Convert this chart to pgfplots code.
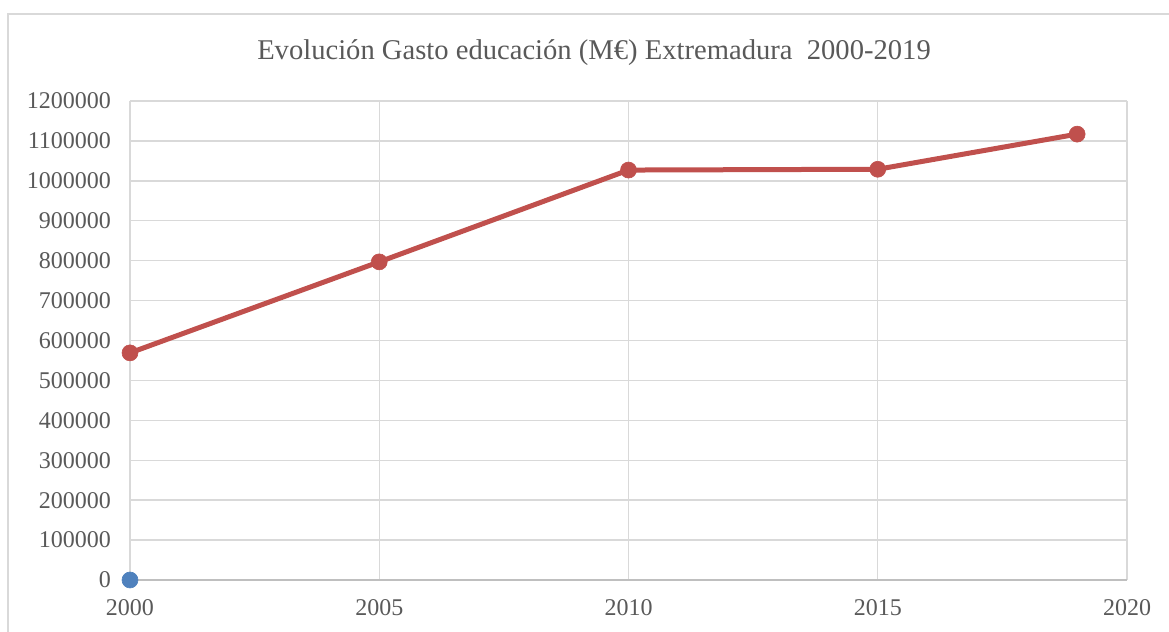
\documentclass[border=0pt]{standalone}
\usepackage{pgfplots}
\pgfplotsset{compat=1.18}
\usepackage{fontspec}
\setmainfont{Liberation Serif}
\definecolor{gridc}{HTML}{D9D9D9}
\definecolor{axc}{HTML}{BFBFBF}
\definecolor{txt}{HTML}{595959}
\definecolor{redl}{HTML}{C0504D}
\definecolor{bluem}{HTML}{4F81BD}
\begin{document}
\begin{tikzpicture}
\useasboundingbox (0,0) rectangle (584.5pt,316pt);
\draw[gridc, line width=0.7pt] (4pt,-20pt) rectangle (620pt,309pt);
\node[text=txt, font=\fontsize{14.3}{16}\selectfont] at (297pt,289.5pt) {Evolución Gasto educación (M€) Extremadura\ \ 2000-2019};
\begin{axis}[
  at={(65pt,26pt)}, anchor=south west,
  scale only axis, width=498.5pt, height=239.5pt,
  xmin=2000, xmax=2020, ymin=0, ymax=1200000,
  xtick={2000,2005,...,2020},
  ytick={0,100000,...,1200000},
  scaled y ticks=false,
  /pgf/number format/assume math mode=true,
  xticklabel={\pgfmathprintnumber[precision=0,1000 sep={}]{\tick}},
  yticklabel={\pgfmathprintnumber[fixed,precision=0,1000 sep={}]{\tick}},
  ticklabel style={text=txt, font=\fontsize{12}{14}\selectfont},
  yticklabel style={xshift=-6pt},
  xticklabel style={yshift=-6pt},
  major tick length=0pt,
  grid=major,
  major grid style={gridc, line width=0.7pt},
  axis line style={gridc, line width=0.7pt},
  axis x line*=bottom, axis y line*=left,
  x axis line style={axc},
  clip=false,
]
\addplot[redl, line width=2.5pt, mark=*, mark size=4pt, mark options={fill=redl, draw=redl, line width=0.3pt}]
  coordinates {(2000,569000) (2005,797000) (2010,1027000) (2015,1029000) (2019,1117000)};
\addplot[only marks, mark=*, mark size=4pt, mark options={fill=bluem, draw=bluem, line width=0.3pt}]
  coordinates {(2000,0)};
\end{axis}
\end{tikzpicture}
\end{document}
